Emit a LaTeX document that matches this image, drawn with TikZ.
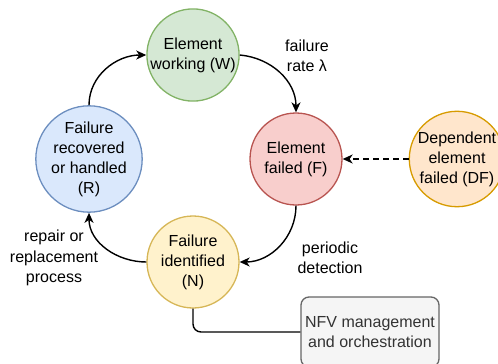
\documentclass[tikz,border=0pt]{standalone}
\usepackage{fontspec}
\setmainfont{Liberation Sans}
\usetikzlibrary{positioning, arrows.meta}
\definecolor{wfill}{HTML}{D5E8D4}\definecolor{wdraw}{HTML}{82B366}
\definecolor{ffill}{HTML}{F8CECC}\definecolor{fdraw}{HTML}{B85450}
\definecolor{rfill}{HTML}{DAE8FC}\definecolor{rdraw}{HTML}{6C8EBF}
\definecolor{nfill}{HTML}{FFF2CC}\definecolor{ndraw}{HTML}{D6B656}
\definecolor{dfill}{HTML}{FFE6CC}\definecolor{ddraw}{HTML}{D79B00}
\definecolor{mfill}{HTML}{F5F5F5}\definecolor{mdraw}{HTML}{666666}
\definecolor{mtext}{HTML}{333333}
\tikzset{
  state/.style={
    draw,
    circle,
    line width=1.3pt,
    minimum size=92pt,
    inner sep=0pt,
    align=center,
    font=\fontsize{16}{20}\selectfont
  },
  note/.style={
    align=center,
    font=\fontsize{16}{20.5}\selectfont
  },
  trans/.style={
    line width=1.4pt,
    -{Stealth[length=10pt,width=9pt,inset=3pt]}
  }
}

\begin{document}
\begin{tikzpicture}[x=1pt, y=-1pt]
        \clip (0,0) rectangle (498,364);
        \node[state, fill=wfill, draw=wdraw] (W) at (193,55) {Element\\working (W)};
        \node[state, fill=ffill, draw=fdraw] (F) at (296,159) {Element\\failed (F)};
        \node[state, fill=nfill, draw=ndraw] (N) at (193,262) {Failure\\identified\\(N)};
        \node[state, fill=rfill, draw=rdraw] (R) at (89,159) {Failure\\recovered\\or handled\\(R)};
        \node[state, fill=dfill, draw=ddraw] (DF) at (457,159) {Dependent\\element\\failed (DF)};
        \node[draw=mdraw, fill=mfill, text=mtext, rounded corners=8pt, line width=1.3pt,
              minimum width=138pt, minimum height=70pt, align=center,
              font=\fontsize{16}{20}\selectfont] (NFV) at (370,332) {NFV management\\and orchestration};

        \node[note] (lambda) at (307,56) {failure\\rate λ};
        \node[note] (detect) at (330,258) {periodic\\detection};
        \node[note] (repair) at (54,258) {repair or\\replacement\\process};

        \draw[trans] (W.east) to[out=-5, in=90] (F.north);
        \draw[trans] (F.south) to[out=-90, in=0] (N.east);
        \draw[trans] (N.west) to[out=180, in=-90] (R.south);
        \draw[trans] (R.north) to[out=90, in=180] (W.west);
        \draw[trans, dashed, dash pattern=on 6pt off 4pt] (DF.west) -- (F.east);
        \draw[line width=1.4pt, rounded corners=8pt] (N.south) |- (NFV.west);
      \end{tikzpicture}
\end{document}
